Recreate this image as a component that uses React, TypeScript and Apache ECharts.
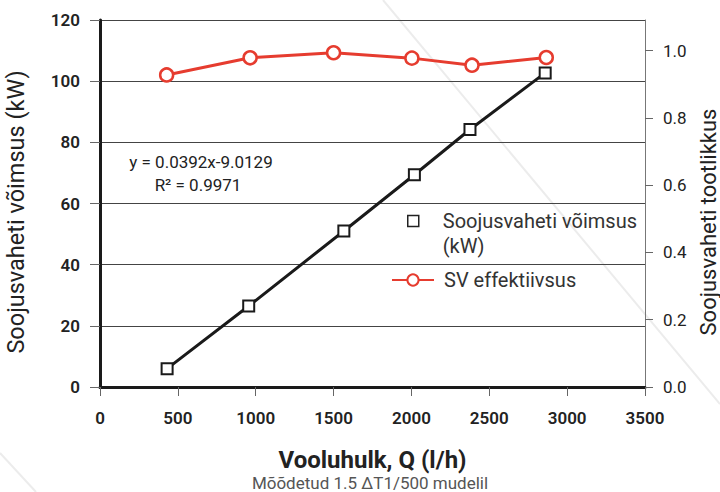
import React, { useEffect, useRef } from "react";
import * as echarts from "echarts";

// Measured points: heat exchanger power (kW) vs flow (l/h)
const flowPower = [431, 955, 1566, 2019, 2376, 2859];
const power = [6.0, 26.5, 51.0, 69.4, 84.2, 102.7];

// Efficiency points vs flow (l/h)
const flowEff = [428, 964, 1500, 2003, 2389, 2866];
const efficiency = [0.928, 0.979, 0.994, 0.978, 0.957, 0.98];

const rightTicks = [0, 0.2, 0.4, 0.6, 0.8, 1.0];

const powerName = "Soojusvaheti võimsus\n(kW)";
const effName = "SV effektiivsus";
const equation = "y = 0.0392x-9.0129";
const rSquared = "R² = 0.9971";
const xTitle = "Vooluhulk, Q (l/h)";
const subtitle = "Mõõdetud 1.5 ΔT1/500 mudelil";
const leftTitle = "Soojusvaheti võimsus (kW)";
const rightTitle = "Soojusvaheti tootlikkus";

const FONT = "Roboto, 'Noto Sans', sans-serif";
const RED = "#e63c2f";
const DARK = "#1a1a1a";

export default function App() {
  const ref = useRef<HTMLDivElement>(null);

  useEffect(() => {
    if (!ref.current) return;
    const chart = echarts.init(ref.current, undefined, { renderer: "svg" });
    chart.setOption({
      animation: false,
      backgroundColor: "#ffffff",
      grid: {
        left: 100,
        right: 75,
        top: 20,
        bottom: 105,
        containLabel: false,
        outerBoundsMode: "none",
      },
      xAxis: {
        type: "value",
        min: 0,
        max: 3500,
        interval: 500,
        axisLine: { show: true, onZero: false, lineStyle: { color: DARK, width: 3 } },
        axisTick: { show: true, length: 9, lineStyle: { color: "#666", width: 1 } },
        axisLabel: {
          margin: 22,
          fontSize: 17,
          color: "#222",
          fontFamily: FONT,
          fontWeight: 600,
          formatter: (v: number) => String(v),
        },
        splitLine: { show: false },
        name: xTitle,
        nameLocation: "middle",
        nameGap: 61,
        nameTextStyle: { fontSize: 24, fontWeight: "bold", color: "#222", fontFamily: FONT },
      },
      yAxis: [
        {
          type: "value",
          min: 0,
          max: 120,
          interval: 20,
          position: "left",
          axisLine: { show: true, lineStyle: { color: DARK, width: 3 } },
          axisTick: { show: true, length: 10, lineStyle: { color: "#666", width: 1 } },
          axisLabel: { margin: 20, fontSize: 17, color: "#222", fontFamily: FONT, fontWeight: 600 },
          splitLine: { show: true, lineStyle: { color: "#444", width: 1 } },
          name: leftTitle,
          nameLocation: "middle",
          nameRotate: 90,
          nameGap: 72,
          nameTextStyle: { fontSize: 23.5, color: "#222", fontFamily: FONT, padding: [0, 17, 0, 0] },
        },
        {
          type: "value",
          min: 0,
          max: 1.0914,
          interval: 0.2,
          position: "right",
          axisLine: { show: true, lineStyle: { color: "#777", width: 1 } },
          axisTick: { show: true, length: 8, customValues: rightTicks, lineStyle: { color: "#666", width: 1 } },
          axisLabel: {
            margin: 18,
            fontSize: 17,
            color: "#222",
            fontFamily: FONT,
            customValues: rightTicks,
            formatter: (v: number) => v.toFixed(1),
          },
          splitLine: { show: false },
          name: rightTitle,
          nameLocation: "middle",
          nameRotate: 90,
          nameGap: 51,
          nameTextStyle: {
            fontSize: 22,
            lineHeight: 22,
            color: "#222",
            fontFamily: FONT,
            padding: [0, 37, 0, 0],
          },
        },
      ],
      legend: [
        {
          left: 407,
          top: 183.5,
          padding: 0,
          orient: "vertical",
          itemWidth: 11,
          itemHeight: 11,
          data: [
            {
              name: powerName,
              icon: "rect",
              itemStyle: { color: "#fff", borderColor: "#222", borderWidth: 1.5 },
            },
          ],
          formatter: (name: string) => " \n" + name,
          textStyle: {
            fontSize: 20,
            color: "#333",
            fontFamily: FONT,
            lineHeight: 25,
            padding: [0, 0, 0, 19],
          },
        },
        {
          left: 391,
          top: 269,
          padding: 0,
          orient: "vertical",
          itemWidth: 42,
          itemHeight: 14,
          data: [{ name: effName }],
          textStyle: {
            fontSize: 20,
            color: "#333",
            fontFamily: FONT,
            lineHeight: 22,
            padding: [0, 0, 0, 5],
          },
        },
      ],
      series: [
        {
          name: powerName,
          type: "line",
          xAxisIndex: 0,
          yAxisIndex: 0,
          data: flowPower.map((x, i) => [x, power[i]]),
          symbol: "rect",
          symbolSize: 11,
          showAllSymbol: true,
          itemStyle: { color: "#fff", borderColor: DARK, borderWidth: 2 },
          lineStyle: { color: DARK, width: 3 },
          z: 3,
        },
        {
          name: effName,
          type: "line",
          xAxisIndex: 0,
          yAxisIndex: 1,
          data: flowEff.map((x, i) => [x, efficiency[i]]),
          symbol: "circle",
          symbolSize: 13,
          showAllSymbol: true,
          itemStyle: { color: "#fff", borderColor: RED, borderWidth: 2.5 },
          lineStyle: { color: RED, width: 3 },
          z: 4,
        },
      ],
      graphic: [
        {
          type: "line",
          z: -10,
          silent: true,
          shape: { x1: 383, y1: 0, x2: 720, y2: 404 },
          style: { stroke: "#ececec", lineWidth: 2 },
        },
        {
          type: "line",
          z: -10,
          silent: true,
          shape: { x1: 0, y1: 453, x2: 36, y2: 492 },
          style: { stroke: "#ececec", lineWidth: 2 },
        },
        {
          type: "text",
          x: 201,
          y: 162,
          style: {
            text: equation,
            align: "center",
            verticalAlign: "middle",
            fontSize: 17,
            fill: "#222",
            fontFamily: FONT,
          },
        },
        {
          type: "text",
          x: 198,
          y: 185,
          style: {
            text: rSquared,
            align: "center",
            verticalAlign: "middle",
            fontSize: 17,
            fill: "#222",
            fontFamily: FONT,
          },
        },
        {
          type: "text",
          x: 370,
          y: 483,
          style: {
            text: subtitle,
            align: "center",
            verticalAlign: "middle",
            fontSize: 17,
            fill: "#555",
            fontFamily: FONT,
          },
        },
      ],
    });
    return () => chart.dispose();
  }, []);

  return (
    <div
      ref={ref}
      style={{ position: "fixed", left: 0, top: 0, width: 720, height: 492, background: "#fff" }}
    />
  );
}
